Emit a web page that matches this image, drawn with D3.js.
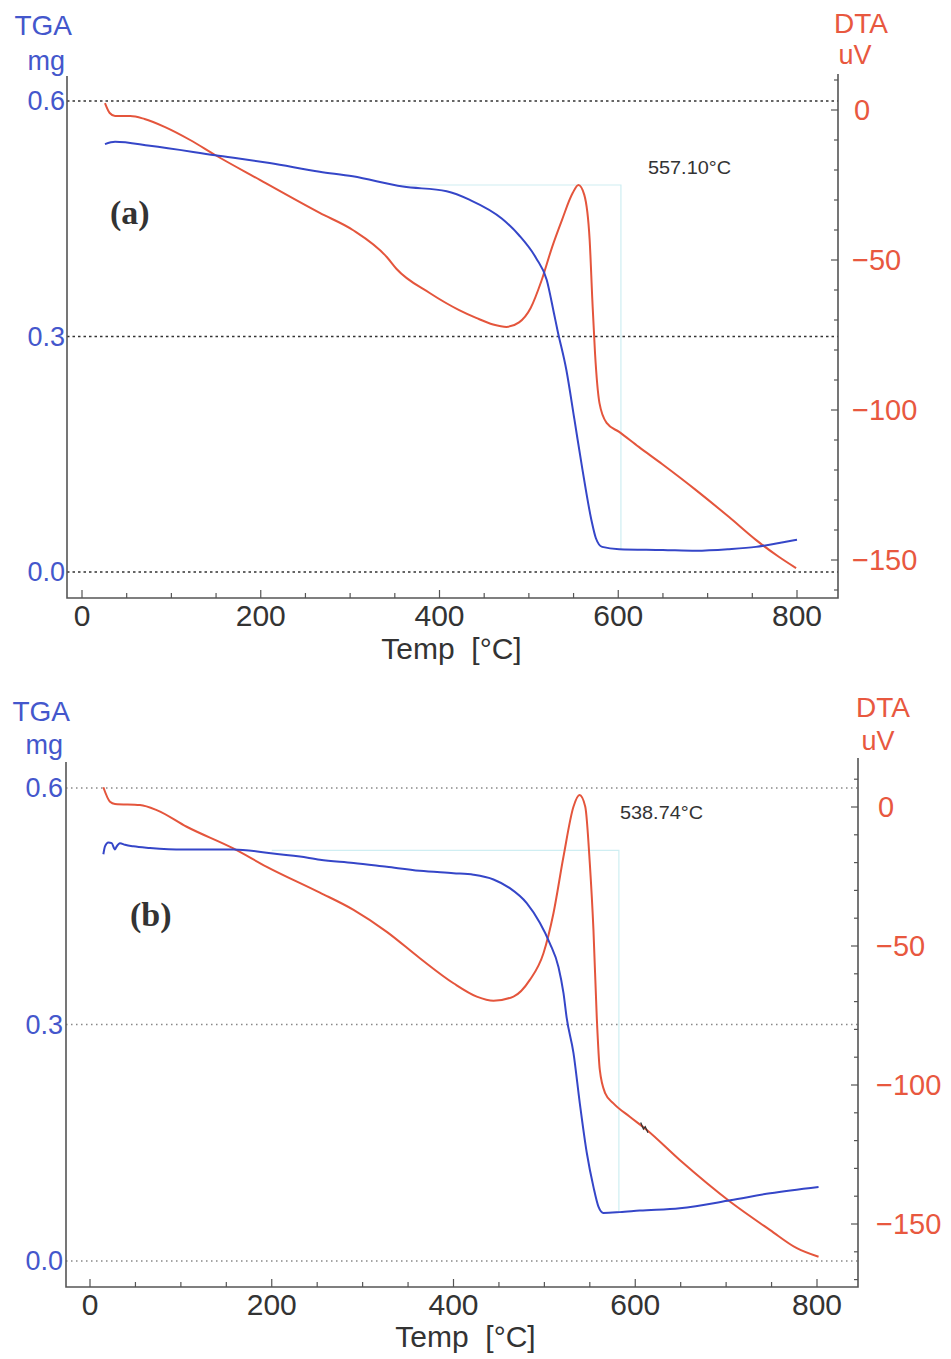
<!DOCTYPE html>
<html>
<head>
<meta charset="utf-8">
<script src="https://cdn.jsdelivr.net/npm/d3@7"></script>
<style>
  body { margin: 0; background: #fff; }
  svg { display: block; font-family: "Liberation Sans", Arial, sans-serif; }
</style>
</head>
<body>
<svg id="chart" width="951" height="1359"></svg>
<script>
// ---- data ----
const xTicks = [0, 200, 400, 600, 800];
const tgaTicks = [0.0, 0.3, 0.6];
const dtaTicks = [0, -50, -100, -150];
const panelNames = ["(a)", "(b)"];
const peakLabels = ["557.10°C", "538.74°C"];

// (a) TGA [Temp C, mg]
const tgaA = [[25.7,0.545],[37,0.548],[76,0.543],[149,0.531],[210,0.521],[266,0.510],[303,0.504],
  [359,0.491],[408,0.485],[434,0.474],[470,0.450],[489,0.429],[508,0.400],[520,0.372],[528,0.330],
  [532,0.308],[542,0.257],[551,0.194],[560,0.130],[570,0.066],[575,0.043],[582,0.032],[601,0.029],
  [650,0.028],[687,0.027],[724,0.029],[754,0.032],[780,0.037],[800,0.041]];
// (a) DTA [Temp C, uV]
const dtaA = [[25.7,2.3],[31,-1],[37,-2],[54,-2],[70,-3],[93,-5.7],[121,-10],[149,-15],[199,-23.3],
  [266,-34.3],[303,-40],[341,-49],[352,-53],[389,-61],[422,-66.7],[441,-69.3],[460,-71.5],[475,-72.3],
  [489,-70.8],[502,-66],[514,-57],[526,-45.7],[537,-36.7],[549,-27.7],[555.5,-25],[562,-28.3],
  [568,-43.3],[571,-63.3],[574,-81],[579,-97.7],[587,-104.3],[601,-107.3],[623,-112.3],[649,-118],
  [687,-126.7],[724,-135.7],[754,-143.3],[780,-149],[799,-152.7]];
// (b) TGA
const tgaB = [[14.7,0.516],[16.5,0.526],[20.2,0.531],[23.9,0.530],[27.5,0.522],[29.4,0.526],[33,0.530],
  [38.5,0.528],[47.7,0.526],[66,0.524],[102.7,0.522],[157.7,0.522],[194.5,0.518],[231,0.513],[253,0.509],
  [290,0.505],[326.6,0.500],[363,0.495],[400,0.492],[422,0.490],[444,0.484],[462,0.473],[480.6,0.454],
  [495,0.429],[506,0.403],[515.5,0.373],[521,0.340],[524.6,0.308],[532,0.264],[539,0.200],[546.7,0.137],
  [554,0.094],[559.5,0.069],[565,0.061],[583,0.062],[605,0.064],[649,0.067],[704.5,0.077],[748.5,0.086],
  [801.7,0.094]];
// (b) DTA
const dtaB = [[14.7,7.1],[22,1.9],[27.5,1.1],[55,0.7],[73.4,-1.1],[106.4,-7.1],[157.7,-14.9],[194.5,-21.5],
  [253,-30.8],[290,-37],[326.6,-44.9],[363,-54.4],[400,-63.4],[425.6,-68.2],[444,-69.7],[466,-68.2],
  [484,-62.2],[499,-52.6],[510,-38.2],[521,-17.9],[532,0.1],[538.7,4.3],[545,0.1],[550,-20.3],[554,-44.2],
  [557.7,-76],[561,-94.6],[567,-103],[576,-106.6],[594,-111.4],[612.8,-116.2],[649,-127],[704.5,-142],
  [748.5,-152.2],[777.8,-158.7],[801.7,-161.8]];
// small black scratch on the (b) DTA trace
const scratchB = [[606,-113.5],[609,-115.8],[611,-115],[614,-117.2]];
// peak-marker step (cyan): [start T, level mg, end T]
const markerA = [355, 0.493, 603];
const markerB = [200, 0.521, 582];

// ---- layout ----
const panels = [
  { tga: tgaA, dta: dtaA, marker: markerA, name: panelNames[0], peak: peakLabels[0], scratch: null,
    left: 67, right: 838, top: 76, bottom: 598, x0: 82, x800: 797,
    yT0: 572, yT6: 101, yD0: 110, yD150: 560, rTop: 74,
    grid: "#333", gridDash: "2.5,3", titleY: [25, 61], dtaTitleX: [861, 855], dtaTitleY: [23, 55],
    leftLabX: 65, rightLabX: 852, xLabY: 615, tempY: 648, nameX: 110, nameY: 224, peakX: 648, peakY: 167 },
  { tga: tgaB, dta: dtaB, marker: markerB, name: panelNames[1], peak: peakLabels[1], scratch: scratchB,
    left: 66, right: 858, top: 762, bottom: 1287, x0: 90, x800: 817,
    yT0: 1261, yT6: 788, yD0: 807, yD150: 1224, rTop: 758,
    grid: "#888", gridDash: "1.5,3.5", titleY: [711, 745], dtaTitleX: [883, 878], dtaTitleY: [707, 741],
    leftLabX: 63, rightLabX: 876, xLabY: 1304, tempY: 1336, nameX: 130, nameY: 926, peakX: 620, peakY: 812 }
];

const blue = "#3546c8", red = "#e4553c", blueTxt = "#4457cc", redTxt = "#e8583f", axisCol = "#555";
const svg = d3.select("#chart");

panels.forEach(p => {
  const x = d3.scaleLinear().domain([0, 800]).range([p.x0, p.x800]);
  const yT = d3.scaleLinear().domain([0, 0.6]).range([p.yT0, p.yT6]);
  const yD = d3.scaleLinear().domain([0, -150]).range([p.yD0, p.yD150]);
  const g = svg.append("g");

  // dotted grid at TGA ticks
  g.selectAll(".grid").data(tgaTicks).enter().append("line")
    .attr("x1", p.left).attr("x2", p.right)
    .attr("y1", d => yT(d)).attr("y2", d => yT(d))
    .attr("stroke", p.grid).attr("stroke-width", 1.6).attr("stroke-dasharray", p.gridDash);

  // cyan peak marker
  const m = p.marker;
  const endVal = p.tga.reduce((a, b) => Math.abs(b[0] - m[2]) < Math.abs(a[0] - m[2]) ? b : a)[1];
  g.append("path")
    .attr("d", `M${x(m[0])},${yT(m[1])}H${x(m[2])}V${yT(endVal)}`)
    .attr("fill", "none").attr("stroke", "#cfeef2").attr("stroke-width", 1.2);

  // frame: left, bottom, right
  g.append("path")
    .attr("d", `M${p.left},${p.top}V${p.bottom}H${p.right}V${p.rTop}`)
    .attr("fill", "none").attr("stroke", axisCol).attr("stroke-width", 1.6);

  // x ticks (inward, every 50)
  const xt = d3.range(0, 801, 50);
  g.selectAll(".xt").data(xt).enter().append("line")
    .attr("x1", d => x(d)).attr("x2", d => x(d))
    .attr("y1", p.bottom).attr("y2", d => p.bottom - (d % 200 === 0 ? 8 : 5))
    .attr("stroke", axisCol).attr("stroke-width", 1.2);
  g.selectAll(".xl").data(xTicks).enter().append("text")
    .attr("x", d => x(d)).attr("y", p.xLabY).attr("dy", "0.35em")
    .attr("text-anchor", "middle").attr("font-size", 30).attr("fill", "#333")
    .text(d => d);

  // right DTA ticks (inward, every 10)
  const dmin = yD.invert(p.bottom), dmax = yD.invert(p.rTop);
  const dt = d3.range(Math.ceil(dmin / 10) * 10, dmax, 10).filter(d => yD(d) < p.bottom - 2);
  g.selectAll(".dt").data(dt).enter().append("line")
    .attr("x1", p.right).attr("x2", d => p.right - (d % 50 === 0 ? 7 : 4))
    .attr("y1", d => yD(d)).attr("y2", d => yD(d))
    .attr("stroke", axisCol).attr("stroke-width", 1.2);
  g.selectAll(".dl").data(dtaTicks).enter().append("text")
    .attr("x", d => d === 0 ? p.rightLabX + 2 : p.rightLabX).attr("y", d => yD(d)).attr("dy", "0.35em")
    .attr("font-size", 29).attr("fill", redTxt)
    .text(d => d === 0 ? "0" : "\u2212" + Math.abs(d));

  // left TGA labels
  g.selectAll(".tl").data(tgaTicks).enter().append("text")
    .attr("x", p.leftLabX).attr("y", d => yT(d)).attr("dy", "0.35em")
    .attr("text-anchor", "end").attr("font-size", 27).attr("fill", blueTxt)
    .text(d => d.toFixed(1));

  // axis titles
  g.append("text").attr("x", p.leftLabX + 7).attr("y", p.titleY[0]).attr("dy", "0.35em")
    .attr("text-anchor", "end").attr("font-size", 28).attr("fill", blueTxt).text("TGA");
  g.append("text").attr("x", p.leftLabX).attr("y", p.titleY[1]).attr("dy", "0.35em")
    .attr("text-anchor", "end").attr("font-size", 27).attr("fill", blueTxt).text("mg");
  g.append("text").attr("x", p.dtaTitleX[0]).attr("y", p.dtaTitleY[0]).attr("dy", "0.35em")
    .attr("text-anchor", "middle").attr("font-size", 28).attr("fill", redTxt).text("DTA");
  g.append("text").attr("x", p.dtaTitleX[1]).attr("y", p.dtaTitleY[1]).attr("dy", "0.35em")
    .attr("text-anchor", "middle").attr("font-size", 27).attr("fill", redTxt).text("uV");
  g.append("text").attr("x", (p.x0 + p.x800) / 2 + 12).attr("y", p.tempY).attr("dy", "0.35em")
    .attr("text-anchor", "middle").attr("font-size", 30).attr("fill", "#333")
    .attr("xml:space", "preserve").text("Temp  [°C]");

  // panel name and peak label
  g.append("text").attr("x", p.nameX).attr("y", p.nameY)
    .attr("font-family", "'Liberation Serif', 'Times New Roman', serif").attr("font-weight", "bold")
    .attr("font-size", 34).attr("fill", "#333").text(p.name);
  g.append("text").attr("x", p.peakX).attr("y", p.peakY).attr("dy", "0.35em")
    .attr("font-size", 19).attr("fill", "#333")
    .attr("textLength", 83).attr("lengthAdjust", "spacingAndGlyphs").text(p.peak);

  // curves
  const lineT = d3.line().x(d => x(d[0])).y(d => yT(d[1])).curve(d3.curveMonotoneX);
  const lineD = d3.line().x(d => x(d[0])).y(d => yD(d[1])).curve(d3.curveMonotoneX);
  g.append("path").datum(p.dta).attr("d", lineD)
    .attr("fill", "none").attr("stroke", red).attr("stroke-width", 2);
  g.append("path").datum(p.tga).attr("d", lineT)
    .attr("fill", "none").attr("stroke", blue).attr("stroke-width", 2);
  if (p.scratch) {
    g.append("path").datum(p.scratch).attr("d", d3.line().x(d => x(d[0])).y(d => yD(d[1])))
      .attr("fill", "none").attr("stroke", "#333").attr("stroke-width", 1.3);
  }
});
</script>
</body>
</html>
